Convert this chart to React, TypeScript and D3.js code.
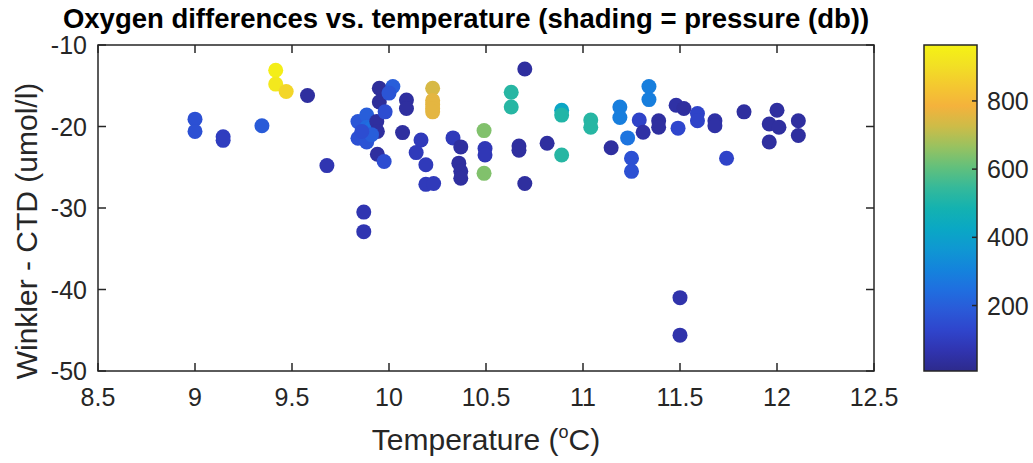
import React from 'react'
import * as d3 from 'd3'

// temperature (degC), Winkler - CTD (umol/l), pressure (db)
const temps = [
  9.416, 9.416, 9.47, 9.58, 9.0, 9.0, 9.145, 9.145, 9.345, 9.68, 9.87, 9.87,
  9.84, 9.885, 9.885, 9.91, 9.84, 9.885, 9.937, 9.94, 9.91, 9.86, 9.95, 9.95,
  9.98, 9.94, 9.975, 10.02, 10.0, 10.09, 10.09, 10.07, 10.225, 10.225, 10.225,
  10.225, 10.225, 10.165, 10.14, 10.19, 10.19, 10.23, 10.33, 10.37, 10.36,
  10.37, 10.37, 10.49, 10.495, 10.495, 10.49, 10.63, 10.63, 10.7, 10.67, 10.67,
  10.7, 10.815, 10.89, 10.89, 10.89, 11.04, 11.04, 11.19, 11.19, 11.145, 11.23,
  11.25, 11.25, 11.29, 11.31, 11.34, 11.34, 11.39, 11.39, 11.49, 11.48, 11.52,
  11.59, 11.59, 11.68, 11.68, 11.74, 11.83, 12.0, 11.96, 12.01, 11.96, 12.11,
  12.11, 11.5, 11.5,
]
const diffs = [
  -13.1, -14.8, -15.7, -16.2, -19.1, -20.6, -21.25, -21.7, -19.9, -24.8, -30.5,
  -32.9, -19.4, -18.6, -20.1, -20.2, -21.45, -21.9, -19.4, -20.6, -21.0, -20.6,
  -15.3, -17.0, -18.2, -23.4, -24.3, -15.1, -15.9, -16.75, -17.8, -20.75, -15.3,
  -16.8, -17.3, -17.8, -18.2, -21.65, -23.2, -24.7, -27.1, -27.0, -21.4, -22.5,
  -24.5, -25.5, -26.35, -20.5, -22.7, -23.5, -25.75, -15.8, -17.6, -12.95,
  -22.4, -22.9, -27.0, -22.05, -18.0, -18.6, -23.5, -19.2, -20.1, -17.6, -18.9,
  -22.6, -21.4, -23.9, -25.5, -19.2, -20.7, -15.1, -16.7, -19.3, -20.1, -20.2,
  -17.4, -17.8, -18.4, -19.3, -19.3, -19.9, -23.9, -18.2, -18.0, -19.7, -20.1,
  -21.9, -19.3, -21.1, -41.0, -45.6,
]
const pressures = [
  950, 930, 880, 40, 160, 160, 100, 100, 190, 70, 70, 70, 180, 200, 230, 250,
  160, 170, 40, 40, 200, 150, 30, 30, 150, 40, 150, 200, 170, 40, 40, 40, 740,
  760, 760, 760, 760, 90, 90, 90, 90, 90, 90, 40, 40, 40, 40, 640, 80, 80, 640,
  520, 520, 40, 40, 40, 40, 40, 420, 510, 520, 520, 520, 290, 290, 40, 260,
  160, 160, 120, 50, 290, 290, 40, 40, 130, 50, 40, 120, 120, 50, 50, 120, 40,
  40, 40, 40, 40, 40, 40, 60, 60,
]

const xTicks = [8.5, 9, 9.5, 10, 10.5, 11, 11.5, 12, 12.5]
const yTicks = [-50, -40, -30, -20, -10]
const cTicks = [200, 400, 600, 800]

// parula-like colormap as it shows in the picture (slightly darker low end)
const parula = [
  '#2d2a8c', '#3034b0', '#2f45cc', '#2a5ad8', '#1f6fe0', '#1484dc', '#0f98d2',
  '#0aa8c4', '#14b2b0', '#35b99a', '#62c07c', '#98c260', '#cdbc48', '#f4b23c',
  '#f4c830', '#f2e024', '#f5f214',
]

const W = 1033
const H = 463
const left = 98
const right = 874
const top = 45
const bottom = 371
const cbX = 924
const cbW = 53
const font = '"Liberation Sans", Arial, Helvetica, sans-serif'
const ink = '#262626'

const x = d3.scaleLinear().domain([8.5, 12.5]).range([left, right])
const y = d3.scaleLinear().domain([-50, -10]).range([bottom, top])
const cmin = 8
const cmax = 964
const cy = d3.scaleLinear().domain([cmin, cmax]).range([bottom, top])
const color = d3
  .scaleLinear<string>()
  .domain(parula.map((_, i) => cmin + ((cmax - cmin) * i) / (parula.length - 1)))
  .range(parula)
  .interpolate(d3.interpolateRgb)
  .clamp(true)

export default function App() {
  const tick = 8
  return (
    <div style={{position: 'absolute', left: 0, top: 0}}>
      <svg width={W} height={H} style={{display: 'block', background: '#fff'}}>
        <defs>
          <linearGradient id="parula" x1="0" y1="1" x2="0" y2="0">
            {parula.map((c, i) => (
              <stop key={i} offset={i / (parula.length - 1)} stopColor={c} />
            ))}
          </linearGradient>
        </defs>

        {/* points */}
        {temps.map((t, i) => (
          <circle
            key={i}
            cx={x(t)}
            cy={y(diffs[i])}
            r={7.5}
            fill={color(pressures[i])}
          />
        ))}

        {/* axes box with inward ticks */}
        <rect
          x={left}
          y={top}
          width={right - left}
          height={bottom - top}
          fill="none"
          stroke={ink}
          strokeWidth={1.5}
        />
        {xTicks.map((t) => (
          <g key={'x' + t}>
            <line x1={x(t)} x2={x(t)} y1={bottom} y2={bottom - tick} stroke={ink} strokeWidth={1.5} />
            <line x1={x(t)} x2={x(t)} y1={top} y2={top + tick} stroke={ink} strokeWidth={1.5} />
            <text
              x={x(t)}
              y={bottom + 35}
              textAnchor="middle"
              fontFamily={font}
              fontSize={25}
              fill={ink}
            >
              {t}
            </text>
          </g>
        ))}
        {yTicks.map((t) => (
          <g key={'y' + t}>
            <line x1={left} x2={left + tick} y1={y(t)} y2={y(t)} stroke={ink} strokeWidth={1.5} />
            <line x1={right} x2={right - tick} y1={y(t)} y2={y(t)} stroke={ink} strokeWidth={1.5} />
            <text
              x={left - 11}
              y={y(t) + 9}
              textAnchor="end"
              fontFamily={font}
              fontSize={25}
              fill={ink}
            >
              {t}
            </text>
          </g>
        ))}

        {/* colorbar */}
        <rect x={cbX} y={top} width={cbW} height={bottom - top} fill="url(#parula)" stroke={ink} strokeWidth={1.5} />
        {cTicks.map((t) => (
          <g key={'c' + t}>
            <line x1={cbX + cbW} x2={cbX + cbW - 5} y1={cy(t)} y2={cy(t)} stroke={ink} strokeWidth={1.5} />
            <text x={cbX + cbW + 10} y={cy(t) + 9} fontFamily={font} fontSize={25} fill={ink}>
              {t}
            </text>
          </g>
        ))}

        {/* labels */}
        <text
          x={466}
          y={28}
          textAnchor="middle"
          fontFamily={font}
          fontWeight="bold"
          fontSize={27.5}
          fill="#000"
        >
          Oxygen differences vs. temperature (shading = pressure (db))
        </text>
        <text
          x={(left + right) / 2}
          y={450}
          textAnchor="middle"
          fontFamily={font}
          fontSize={30}
          fill={ink}
        >
          Temperature (<tspan dy={-12} fontSize={18}>o</tspan>
          <tspan dy={12}>C)</tspan>
        </text>
        <text
          transform={`translate(37, 231) rotate(-90)`}
          textAnchor="middle"
          fontFamily={font}
          fontSize={30}
          fill={ink}
        >
          Winkler - CTD (umol/l)
        </text>
      </svg>
    </div>
  )
}
